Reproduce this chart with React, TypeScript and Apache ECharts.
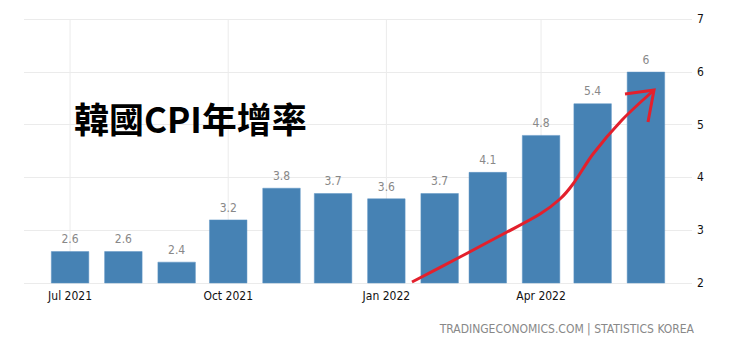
import React, { useEffect, useRef } from "react";
import * as echarts from "echarts";

const months = [
  "2021-07-01", "2021-08-01", "2021-09-01", "2021-10-01", "2021-11-01", "2021-12-01",
  "2022-01-01", "2022-02-01", "2022-03-01", "2022-04-01", "2022-05-01", "2022-06-01",
];
const cpiYoY = [2.6, 2.6, 2.4, 3.2, 3.8, 3.7, 3.6, 3.7, 4.1, 4.8, 5.4, 6];
const quarterStarts = ["2021-07-01", "2021-10-01", "2022-01-01", "2022-04-01"];
const quarterLabels = ["Jul 2021", "Oct 2021", "Jan 2022", "Apr 2022"];
const yMin = 2;
const yMax = 7;

const DAY = 86400000;
const ts = (s: string) => {
  const [y, m, d] = s.split("-").map(Number);
  return Date.UTC(y, m - 1, d);
};

const FONT = "'DejaVu Sans Condensed', 'Liberation Sans Narrow', 'DejaVu Sans', sans-serif";

export default function App() {
  const ref = useRef<HTMLDivElement>(null);
  useEffect(() => {
    if (!ref.current) return;
    const chart = echarts.init(ref.current, undefined, { renderer: "svg" });
    // ECharts widens a bar axis by the bar overflow; pad less to compensate
    const xMin = ts(months[0]) - 15.75 * DAY;
    const xMax = ts(months[months.length - 1]) + 15.75 * DAY;
    chart.setOption({
      animation: false,
      grid: { left: 24, right: 48, top: 19, bottom: 62, containLabel: false },
      title: [
        {
          text: "韓國CPI年增率",
          left: 69,
          top: 95,
          textStyle: {
            fontSize: 35,
            fontWeight: 600,
            color: "#000",
            fontFamily: "'Noto Sans CJK TC', 'Noto Sans CJK SC', sans-serif",
          },
        },
        {
          text: "TRADINGECONOMICS.COM | STATISTICS KOREA",
          right: 41,
          top: 318,
          textStyle: { fontSize: 12, fontWeight: "normal", color: "#888", fontFamily: FONT },
        },
      ],
      xAxis: {
        type: "time",
        min: xMin,
        max: xMax,
        axisLabel: { show: false },
        axisTick: { show: false },
        axisLine: { show: false },
        splitLine: { show: false },
      },
      yAxis: {
        type: "value",
        position: "right",
        min: yMin,
        max: yMax,
        interval: 1,
        axisLabel: { color: "#111", fontSize: 12, margin: 5, fontFamily: FONT },
        axisLine: { show: false },
        axisTick: { show: false },
        splitLine: { lineStyle: { color: "#ebebeb", width: 1 } },
      },
      series: [
        {
          type: "custom",
          z: 1,
          clip: false,
          silent: true,
          data: quarterStarts.map((q, i) => [ts(q), quarterLabels[i]]),
          renderItem: (params: any, api: any) => {
            const t = api.value(0);
            const top = api.coord([t, yMax]);
            const bot = api.coord([t, yMin]);
            const label = quarterLabels[params.dataIndex];
            return {
              type: "group",
              children: [
                {
                  type: "line",
                  shape: { x1: top[0], y1: top[1], x2: bot[0], y2: bot[1] },
                  style: { stroke: "#ebebeb", lineWidth: 1 },
                },
                {
                  type: "text",
                  x: bot[0],
                  y: bot[1] + 13,
                  style: {
                    text: label,
                    fill: "#111",
                    font: `12px ${FONT}`,
                    align: "center",
                    verticalAlign: "middle",
                  },
                },
              ],
            };
          },
        },
        {
          type: "bar",
          z: 2,
          barWidth: 38,
          data: months.map((m, i) => [ts(m), cpiYoY[i]]),
          itemStyle: { color: "#4682B4", borderColor: "#5f95c4", borderWidth: 0.5 },
          label: {
            show: true,
            position: "top",
            distance: 6,
            color: "#888",
            fontSize: 12,
            fontFamily: FONT,
            formatter: (p: any) => String(p.value[1]),
          },
        },
      ],
      graphic: [
        {
          type: "polyline",
          z: 100,
          shape: {
            points: [
              [412, 282], [460, 257], [507, 232], [540, 214], [560, 199],
              [573, 184], [593, 154], [622, 120], [653, 91],
            ],
            smooth: 0.3,
          },
          style: { stroke: "#e3202c", lineWidth: 3, fill: null },
        },
        {
          type: "polyline",
          z: 100,
          shape: { points: [[625, 94], [654, 90], [648, 122]] },
          style: { stroke: "#e3202c", lineWidth: 3, fill: null, lineJoin: "miter" },
        },
      ],
    });
    return () => chart.dispose();
  }, []);
  return (
    <div
      ref={ref}
      style={{ position: "fixed", left: 0, top: 0, width: 740, height: 345, background: "#fff" }}
    />
  );
}
